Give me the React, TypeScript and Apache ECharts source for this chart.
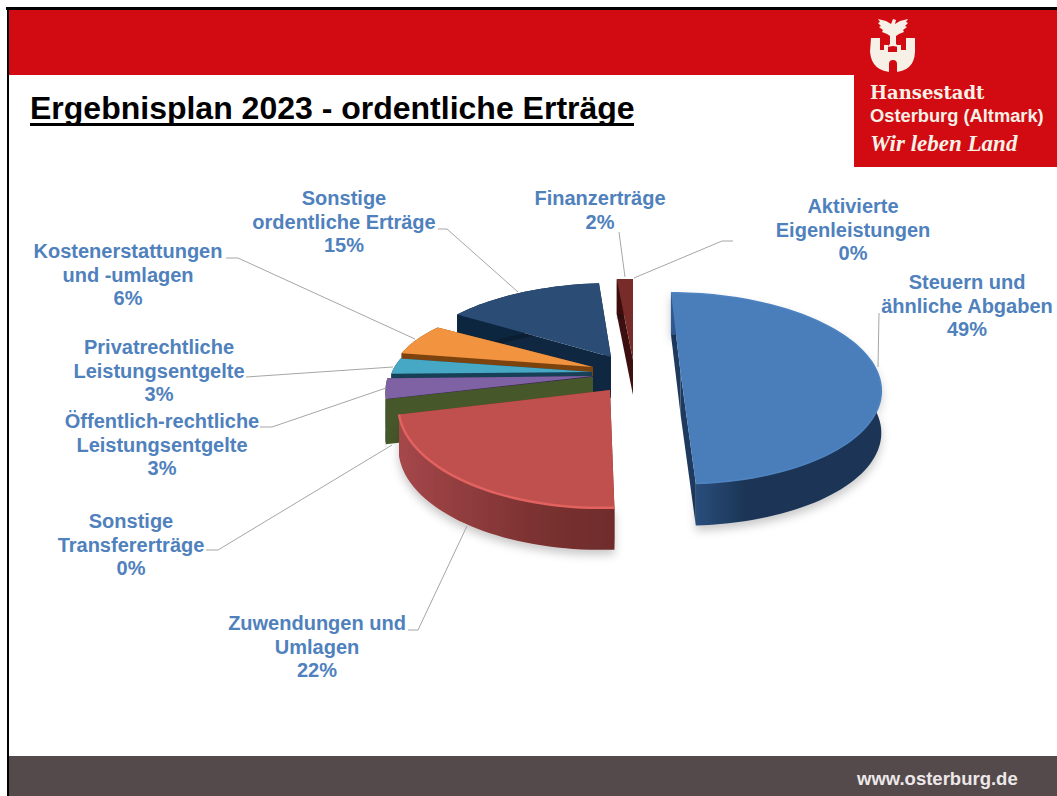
import React, { useEffect, useRef } from "react";
import * as echarts from "echarts";

const categories = [
  "Steuern und\nähnliche Abgaben",
  "Zuwendungen und\nUmlagen",
  "Sonstige\nTransfererträge",
  "Öffentlich-rechtliche\nLeistungsentgelte",
  "Privatrechtliche\nLeistungsentgelte",
  "Kostenerstattungen\nund -umlagen",
  "Sonstige\nordentliche Erträge",
  "Finanzerträge",
  "Aktivierte\nEigenleistungen",
];
const shares = [49.2, 22.1, 0.3, 3.2, 3.2, 6.2, 14.5, 1.5, 0];

const topColors = ["#4a7ebb", "#bf504d", "#46582a", "#7f62a3", "#46a8c4", "#f1933f", "#2b4c75", "#772c2a", "#772c2a"];
const wallColors = ["#1e3a5f", "#7f3331", "#46582a", "#3a2a55", "#173f55", "#7d430f", "#0f2740", "#3d0f10", "#3d0f10"];
const rimLeft = ["#30598f", "#a5474a", "#46582a", "#46582a", "#173f55", "#7d430f", "#0f2740", "#3d0f10", "#3d0f10"];
const rimRight = ["#1c3656", "#6f2c2c", "#46582a", "#46582a", "#173f55", "#7d430f", "#0f2740", "#3d0f10", "#3d0f10"];
const bevelColors = ["#4f84c2", "#e2625f", "", "", "", "", "", "", ""];

// Projection of every slice: centre, radii, shear and wall height
const geometry = [
  { cx: 675.7, ax: 680.6, cy: 373, R: 202, k: 93, s: 5.5, h: 42 },
  { cx: 601, ax: 610, cy: 390, R: 200, k: 99, s: 0, h: 42 },
  { cx: 593, ax: 593, cy: 377, R: 205, k: 98, s: 0, h: 43 },
  { cx: 593, ax: 593, cy: 376, R: 205, k: 100, s: 0, h: 43 },
  { cx: 592, ax: 592, cy: 372, R: 200, k: 78, s: 0, h: 43 },
  { cx: 593, ax: 593, cy: 367, R: 200, k: 80, s: 0, h: 43 },
  { cx: 615.5, ax: 611, cy: 357, R: 204, k: 86, s: 0, h: 41 },
  { cx: 633, ax: 633, cy: 360, R: 200, k: 94, s: 0, h: 35 },
  { cx: 633, ax: 633, cy: 360, R: 200, k: 94, s: 0, h: 35 },
];
const paintOrder = [8, 6, 5, 4, 3, 2, 7, 0, 1];
const PERSPECTIVE = 0.16;

const labelBoxes = [
  { x: 967, y: 282 },
  { x: 317, y: 623 },
  { x: 131, y: 521 },
  { x: 162, y: 421 },
  { x: 159, y: 347 },
  { x: 128, y: 251 },
  { x: 344, y: 198 },
  { x: 600, y: 198 },
  { x: 853, y: 206 },
];
const leaderLines = [
  [[879, 313], [878, 367]],
  [[408, 630], [418, 630], [467, 526]],
  [[206, 550], [218, 550], [392, 445]],
  [[260, 427], [272, 427], [386, 388]],
  [[246, 377], [393, 367]],
  [[226, 258], [238, 258], [415, 339]],
  [[438, 229], [447, 229], [518, 292]],
  [[619, 232], [625, 277]],
  [[733, 241], [722, 241], [634, 278]],
];

echarts.graphic.registerShape(
  "crestCastle",
  echarts.graphic.extendPath(
    "M871 38 L880 38 L880 50 L884 50 L884 45 L888 45 L888 52 L897 52 L897 45 L901 45 L901 50 L906 50 L906 38 L915 38 L915 52 Q914 72 893 72 Q872 72 870 52 Z",
    {}
  )
);
echarts.graphic.registerShape(
  "crestEagle",
  echarts.graphic.extendPath(
    "M893 19 L896 20 L895 24 L900 21 L908 19 L906 22 L908 23 L905 26 L907 27 L903 30 L904 32 L899 34 L896 36 L896 44 L899 47 L893 46 L887 47 L890 44 L890 36 L887 34 L882 32 L883 30 L879 27 L881 26 L878 23 L880 22 L878 19 L886 21 L891 24 Z",
    {}
  )
);

const total = shares.reduce((a, b) => a + b, 0);
const starts: number[] = [];
shares.reduce((acc, v, i) => {
  starts[i] = acc;
  return acc + (v / total) * 360;
}, 0);

function rimPoint(g: any, deg: number, dy = 0) {
  const t = (deg * Math.PI) / 180;
  const u = Math.sin(t);
  const v = -Math.cos(t);
  const d = 1 - PERSPECTIVE * v;
  return [g.cx + (g.R * u + g.s * v) / d, g.cy + (g.k * v) / d + dy];
}

function arcPoints(g: any, a0: number, a1: number, dy = 0) {
  const out: number[][] = [];
  const n = Math.max(2, Math.ceil((a1 - a0) / 2));
  for (let i = 0; i <= n; i++) out.push(rimPoint(g, a0 + ((a1 - a0) * i) / n, dy));
  return out;
}

function renderSlice(_: any, api: any) {
  const idx = api.value(0) as number;
  const value = api.value(1) as number;
  const g = geometry[idx];
  const a0 = starts[idx];
  const a1 = a0 + (value / total) * 360;
  const apex = [g.ax, g.cy];
  const apexLow = [g.ax, g.cy + g.h];
  const top = arcPoints(g, a0, a1);
  const bottom = arcPoints(g, a0, a1, g.h);
  const children: any[] = [];
  children.push({
    type: "polygon",
    shape: { points: [apex, top[0], bottom[0], apexLow] },
    style: { fill: wallColors[idx] },
  });
  children.push({
    type: "polygon",
    shape: { points: [apex, top[top.length - 1], bottom[bottom.length - 1], apexLow] },
    style: { fill: wallColors[idx] },
  });
  children.push({
    type: "polygon",
    shape: { points: [...top, ...bottom.slice().reverse()] },
    style: {
      fill: new echarts.graphic.LinearGradient(idx === 1 ? 1 : 0, 0, idx === 1 ? 0 : 1, 0, [
        { offset: 0, color: idx === 1 ? rimRight[idx] : rimLeft[idx] },
        { offset: 0.35, color: idx === 1 ? "#7a3130" : rimRight[idx] },
        { offset: 1, color: idx === 1 ? rimLeft[idx] : rimRight[idx] },
      ]),
      shadowBlur: idx < 2 ? 10 : 0,
      shadowColor: "rgba(0,0,0,0.22)",
      shadowOffsetY: 5,
    },
  });
  children.push({
    type: "polygon",
    shape: { points: [apex, ...top] },
    style: { fill: topColors[idx] },
  });
  if (bevelColors[idx]) {
    children.push({
      type: "polyline",
      shape: { points: top },
      style: { stroke: bevelColors[idx], lineWidth: idx === 1 ? 2.5 : 1.5, fill: "none" },
    });
  }
  return { type: "group", children };
}

function pageGraphics() {
  const labelFont = { fontFamily: "Liberation Sans", fontWeight: "bold" as const };
  const els: any[] = [
    { type: "rect", z: 0, shape: { x: 8, y: 10, width: 1049, height: 65 }, style: { fill: "#d20a11" } },
    { type: "rect", z: 0, shape: { x: 854, y: 75, width: 203, height: 92 }, style: { fill: "#d20a11" } },
    { type: "rect", z: 0, shape: { x: 6, y: 7, width: 1051, height: 3 }, style: { fill: "#000000" } },
    { type: "rect", z: 0, shape: { x: 7, y: 7, width: 2, height: 789 }, style: { fill: "#000000" } },
    { type: "rect", z: 0, shape: { x: 9, y: 756, width: 1048, height: 40 }, style: { fill: "#544a4c" } },
    { type: "crestEagle", z: 1, style: { fill: "#f6f0e6" } },
    { type: "crestCastle", z: 1, style: { fill: "#f6f0e6" } },
    { type: "rect", z: 1, shape: { x: 889, y: 60, width: 8, height: 12, r: [4, 4, 0, 0] }, style: { fill: "#d20a11" } },
    {
      type: "text", z: 10, x: 30, y: 92,
      style: { text: "Ergebnisplan 2023 - ordentliche Erträge", fill: "#000000", fontSize: 32, ...labelFont },
    },
    { type: "rect", z: 10, shape: { x: 30, y: 123, width: 604, height: 3 }, style: { fill: "#000000" } },
    {
      type: "text", z: 10, x: 870, y: 83,
      style: { text: "Hansestadt", fill: "#f6f0e6", fontSize: 18, fontFamily: "DejaVu Serif", fontWeight: "bold" },
    },
    {
      type: "text", z: 10, x: 870, y: 106,
      style: { text: "Osterburg (Altmark)", fill: "#f6f0e6", fontSize: 18.3, ...labelFont },
    },
    {
      type: "text", z: 10, x: 870, y: 132,
      style: { text: "Wir leben Land", fill: "#f6f0e6", fontSize: 23, fontFamily: "Liberation Serif", fontWeight: "bold", fontStyle: "italic" },
    },
    {
      type: "text", z: 10, x: 857, y: 769,
      style: { text: "www.osterburg.de", fill: "#ece8e8", fontSize: 18.5, ...labelFont },
    },
  ];
  categories.forEach((name, i) => {
    els.push({
      type: "text", z: 10, x: labelBoxes[i].x, y: labelBoxes[i].y - 11.75,
      style: {
        text: `${name}\n${Math.round(shares[i])}%`,
        fill: "#4f81bd", fontSize: 20, lineHeight: 23.5, align: "center", verticalAlign: "top", ...labelFont,
      },
    });
    els.push({
      type: "polyline", z: 5,
      shape: { points: leaderLines[i] },
      style: { stroke: "#a6a6a6", lineWidth: 1, fill: "none" },
    });
  });
  return els;
}

export default function App() {
  const ref = useRef<HTMLDivElement>(null);
  useEffect(() => {
    const chart = echarts.init(ref.current!, undefined, { renderer: "svg" });
    chart.setOption({
      animation: false,
      backgroundColor: "#ffffff",
      graphic: { elements: pageGraphics() },
      series: [
        {
          type: "custom",
          coordinateSystem: "none",
          z: 3,
          silent: true,
          renderItem: renderSlice,
          data: paintOrder.map((i) => [i, shares[i]]),
        },
      ],
    });
    return () => chart.dispose();
  }, []);
  return <div ref={ref} style={{ position: "absolute", left: 0, top: 0, width: 1057, height: 796 }} />;
}
